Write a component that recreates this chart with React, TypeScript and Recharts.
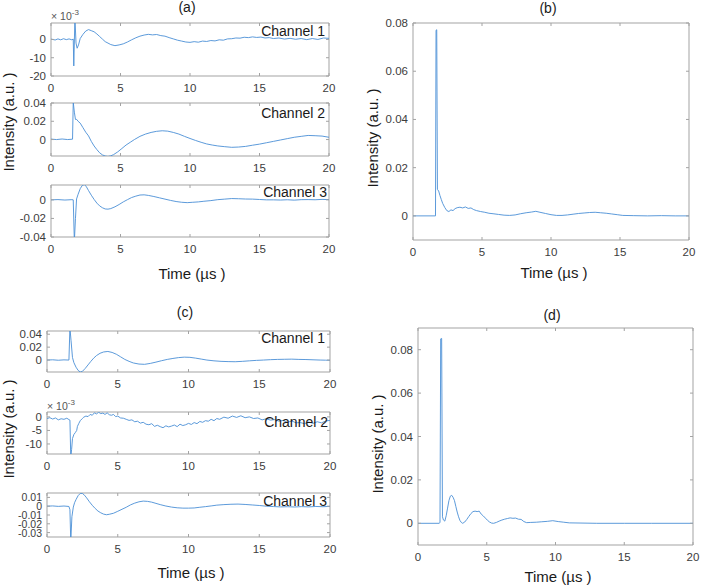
import React from "react";
import { LineChart, Line, XAxis, YAxis, ReferenceArea } from "recharts";

const FONT = "'Liberation Sans', Arial, Helvetica, sans-serif";
const LINE_COLOR = "#4a8fd6";
const BOX_COLOR = "#a3a3a3";
const TICK_COLOR = "#3c3c3c";

const timeTicks = [0, 5, 10, 15, 20];

// (a) Channel 1, values in units of 1e-3
const aCh1Time = [0, 0.3, 0.5, 0.7, 0.9, 1.1, 1.3, 1.5, 1.6, 1.64, 1.72, 1.8, 1.88, 1.98, 2.1, 2.3, 2.5, 2.7, 2.9, 3.1, 3.3, 3.5, 3.7, 3.9, 4.1, 4.3, 4.6, 4.9, 5.2, 5.5, 5.8, 6.1, 6.4, 6.7, 7.0, 7.3, 7.6, 7.9, 8.2, 8.5, 8.8, 9.1, 9.4, 9.7, 10.0, 10.3, 10.6, 10.9, 11.2, 11.5, 11.8, 12.1, 12.4, 12.7, 13.0, 13.3, 13.6, 13.9, 14.2, 14.5, 14.8, 15.1, 15.4, 15.7, 16.0, 16.4, 16.8, 17.2, 17.6, 18.0, 18.4, 18.8, 19.2, 19.6, 20.0];
const aCh1Val = [0.2, -0.3, 0.3, -0.2, 0.4, -0.1, 0.3, -0.2, 0.2, -14.5, 12, -2, -4.8, -3, 0.5, 2.8, 4.6, 5.4, 4.8, 4.2, 3.0, 1.6, 0.2, -1.2, -2.0, -2.8, -3.4, -3.0, -2.4, -1.4, -0.2, 0.9, 1.8, 2.4, 2.8, 2.5, 2.7, 2.1, 1.8, 1.0, 0.3, -0.4, -0.9, -1.4, -1.6, -1.2, -1.5, -0.9, -1.1, -0.6, -0.8, -0.2, -0.4, 0.3, 0.4, 0.8, 0.7, 1.2, 1.0, 1.4, 1.1, 1.3, 0.8, 1.0, 0.5, 0.8, 0.2, 0.6, 0.1, 0.5, -0.1, 0.5, 0.0, 0.8, 0.6];

// (a) Channel 2
const aCh2Time = [0, 0.4, 0.8, 1.2, 1.55, 1.6, 1.68, 1.76, 1.85, 1.95, 2.1, 2.3, 2.5, 2.7, 2.9, 3.1, 3.3, 3.5, 3.7, 3.9, 4.1, 4.3, 4.5, 4.8, 5.1, 5.4, 5.7, 6.0, 6.4, 6.8, 7.2, 7.6, 8.0, 8.4, 8.8, 9.2, 9.6, 10.0, 10.4, 10.8, 11.2, 11.6, 12.0, 12.5, 13.0, 13.5, 14.0, 14.5, 15.0, 15.5, 16.0, 16.5, 17.0, 17.5, 18.0, 18.5, 19.0, 19.5, 20.0];
const aCh2Val = [0.0005, 0, 0.0006, 0, 0.0004, 0.041, 0.03, 0.022, 0.022, 0.02, 0.018, 0.013, 0.008, 0.004, -0.002, -0.007, -0.011, -0.0145, -0.0168, -0.018, -0.0185, -0.0178, -0.0165, -0.0135, -0.0098, -0.006, -0.003, 0, 0.0035, 0.006, 0.0078, 0.009, 0.0096, 0.0092, 0.0078, 0.006, 0.0035, 0.0012, -0.001, -0.003, -0.0048, -0.006, -0.007, -0.0078, -0.0085, -0.0082, -0.0075, -0.0062, -0.005, -0.0035, -0.002, -0.0005, 0.001, 0.0025, 0.0035, 0.0045, 0.0042, 0.0038, 0.0025];

// (a) Channel 3
const aCh3Time = [0, 0.5, 1.0, 1.5, 1.6, 1.68, 1.76, 1.84, 1.95, 2.1, 2.25, 2.4, 2.55, 2.7, 2.9, 3.1, 3.3, 3.5, 3.7, 3.9, 4.1, 4.3, 4.6, 4.9, 5.2, 5.5, 5.8, 6.1, 6.4, 6.7, 7.0, 7.4, 7.8, 8.2, 8.6, 9.0, 9.4, 9.8, 10.2, 10.6, 11.0, 11.5, 12.0, 12.5, 13.0, 13.5, 14.0, 14.5, 15.0, 15.5, 16.0, 16.5, 17.0, 17.5, 18.0, 18.5, 19.0, 19.5, 20.0];
const aCh3Val = [0, 0.0003, -0.0002, 0.0002, 0, -0.045, -0.02, 0.001, 0.006, 0.012, 0.0155, 0.0165, 0.014, 0.01, 0.005, 0.0005, -0.0035, -0.0065, -0.0085, -0.0098, -0.01, -0.0094, -0.0075, -0.005, -0.0022, 0.0002, 0.0025, 0.004, 0.0052, 0.0054, 0.0048, 0.0036, 0.0022, 0.0008, -0.0006, -0.0018, -0.0026, -0.003, -0.0026, -0.0022, -0.0015, -0.0008, 0.0002, 0.0008, 0.0014, 0.0012, 0.0009, 0.0008, 0.0004, 0, 0, -0.0002, 0.0001, -0.0003, 0.0002, 0.0003, 0.0001, 0.0005, 0.0003];

// (b) summed intensity
const bTime = [0, 1.63, 1.67, 1.72, 1.77, 1.86, 1.95, 2.05, 2.15, 2.3, 2.45, 2.6, 2.75, 2.9, 3.05, 3.2, 3.4, 3.6, 3.8, 4.0, 4.2, 4.4, 4.6, 4.9, 5.2, 5.5, 5.8, 6.2, 6.6, 7.0, 7.4, 7.8, 8.2, 8.6, 8.9, 9.2, 9.6, 10.0, 10.4, 10.8, 11.2, 11.6, 12.0, 12.4, 12.8, 13.2, 13.6, 14.0, 14.4, 14.8, 15.2, 16.0, 17.0, 18.0, 19.0, 20.0];
const bVal = [0, 0, 0.077, 0.0772, 0.011, 0.0103, 0.0085, 0.0068, 0.0052, 0.0035, 0.0022, 0.0018, 0.0025, 0.0022, 0.003, 0.0034, 0.0036, 0.0033, 0.0037, 0.0031, 0.0033, 0.0026, 0.0022, 0.0018, 0.0015, 0.0011, 0.0009, 0.0006, 0.0003, 0.0002, 0.0004, 0.0009, 0.0013, 0.0016, 0.0019, 0.0015, 0.001, 0.0005, 0.0002, 0.0002, 0.0004, 0.0007, 0.001, 0.0012, 0.0014, 0.0015, 0.0013, 0.0011, 0.0008, 0.0005, 0.0002, 0.0001, 0, 0.0001, 0, 0];

// (c) Channel 1
const cCh1Time = [0, 0.4, 0.8, 1.2, 1.55, 1.62, 1.7, 1.8, 1.9, 2.05, 2.2, 2.35, 2.5, 2.7, 2.9, 3.1, 3.3, 3.5, 3.75, 4.0, 4.3, 4.6, 4.9, 5.2, 5.5, 5.8, 6.1, 6.5, 6.9, 7.3, 7.7, 8.1, 8.5, 8.9, 9.3, 9.7, 10.1, 10.5, 10.9, 11.3, 11.8, 12.3, 12.8, 13.3, 13.8, 14.3, 14.8, 15.3, 15.8, 16.3, 16.8, 17.3, 17.8, 18.3, 18.8, 19.3, 19.7, 20.0];
const cCh1Val = [0, 0.0004, -0.0003, 0.0003, 0, 0.05, 0.03, 0.004, -0.004, -0.011, -0.016, -0.0185, -0.0175, -0.013, -0.0075, -0.002, 0.003, 0.007, 0.0105, 0.0125, 0.0133, 0.0118, 0.009, 0.005, 0.001, -0.002, -0.0045, -0.0062, -0.0066, -0.0052, -0.0032, -0.001, 0.001, 0.0025, 0.0038, 0.0045, 0.0042, 0.003, 0.0015, 0, -0.0012, -0.002, -0.0024, -0.0026, -0.002, -0.0012, -0.0005, 0, 0.0006, 0.001, 0.0012, 0.0014, 0.001, 0.0008, 0.0004, 0, -0.0002, -0.0004];

// (c) Channel 2, values in units of 1e-3
const cCh2Time = [0, 0.2, 0.4, 0.6, 0.8, 1.0, 1.2, 1.4, 1.55, 1.62, 1.68, 1.74, 1.8, 1.9, 2.0, 2.1, 2.15, 2.25, 2.35, 2.5, 2.6, 2.75, 2.9, 3.05, 3.2, 3.35, 3.5, 3.65, 3.8, 3.95, 4.1, 4.25, 4.4, 4.55, 4.7, 4.85, 5.0, 5.2, 5.4, 5.6, 5.8, 6.0, 6.2, 6.4, 6.6, 6.8, 7.0, 7.2, 7.4, 7.6, 7.8, 8.0, 8.2, 8.4, 8.6, 8.8, 9.0, 9.2, 9.4, 9.6, 9.8, 10.0, 10.2, 10.4, 10.6, 10.8, 11.0, 11.2, 11.4, 11.6, 11.8, 12.0, 12.2, 12.5, 12.8, 13.1, 13.4, 13.7, 14.0, 14.3, 14.6, 14.9, 15.2, 15.5, 15.8, 16.1, 16.4, 16.7, 17.0, 17.3, 17.6, 17.9, 18.2, 18.5, 18.8, 19.1, 19.4, 19.7, 20.0];
const cCh2Val = [-0.6, -0.3, -0.8, -0.4, -1.1, -0.7, -0.9, -0.5, -1.0, -1.2, -15, -12, -8, -6.5, -5.8, -5.0, -3.5, -2.4, -1.4, -0.6, -0.1, 0.3, 0.1, 0.9, 0.6, 1.5, 1.1, 1.7, 1.2, 1.4, 0.9, 1.5, 0.8, 0.6, 0.9, 0.1, 0.3, -0.4, -0.5, -0.9, -1.3, -1.1, -1.8, -1.6, -2.3, -2.0, -2.7, -2.9, -2.5, -3.5, -3.1, -3.6, -4.0, -3.3, -3.7, -3.4, -3.0, -3.6, -2.7, -3.2, -2.9, -2.4, -2.8, -2.1, -2.5, -1.7, -2.0, -1.4, -1.6, -0.9, -1.4, -0.6, -0.9, -0.1, -0.5, 0.3, -0.2, 0.4, -0.3, 0.0, -0.6, -0.4, -1.1, -0.7, -1.2, -1.0, -1.6, -1.3, -2.0, -1.5, -2.2, -2.1, -2.5, -1.9, -2.4, -1.8, -2.2, -1.5, -1.3];

// (c) Channel 3
const cCh3Time = [0, 0.4, 0.8, 1.2, 1.55, 1.62, 1.68, 1.76, 1.86, 1.95, 2.05, 2.2, 2.35, 2.5, 2.65, 2.8, 3.0, 3.2, 3.4, 3.6, 3.8, 4.0, 4.2, 4.4, 4.7, 5.0, 5.3, 5.6, 5.9, 6.2, 6.5, 6.8, 7.1, 7.4, 7.7, 8.0, 8.4, 8.8, 9.2, 9.6, 10.0, 10.4, 10.8, 11.2, 11.6, 12.0, 12.5, 13.0, 13.5, 14.0, 14.5, 15.0, 15.5, 16.0, 16.5, 17.0, 17.5, 18.0, 18.5, 19.0, 19.5, 20.0];
const cCh3Val = [0, 0.0003, -0.0002, 0.0002, -0.0003, -0.004, -0.04, -0.012, -0.001, 0.004, 0.0075, 0.012, 0.0145, 0.0145, 0.0125, 0.0095, 0.005, 0.001, -0.0025, -0.0055, -0.0075, -0.009, -0.0097, -0.0092, -0.008, -0.0058, -0.0035, -0.0012, 0.0015, 0.0035, 0.005, 0.0058, 0.0055, 0.0046, 0.0032, 0.0018, 0.0002, -0.001, -0.0018, -0.0022, -0.0022, -0.002, -0.0012, -0.0005, 0.0003, 0.0012, 0.0018, 0.0022, 0.0024, 0.002, 0.0014, 0.0008, 0, -0.0004, -0.0008, -0.0006, -0.0009, -0.0005, -0.0008, -0.0003, -0.0006, -0.0002];

// (d) summed intensity
const dTime = [0, 1.55, 1.6, 1.65, 1.72, 1.78, 1.85, 1.95, 2.05, 2.15, 2.25, 2.35, 2.45, 2.55, 2.65, 2.75, 2.85, 2.95, 3.05, 3.15, 3.25, 3.4, 3.55, 3.7, 3.85, 4.0, 4.15, 4.3, 4.45, 4.6, 4.75, 4.9, 5.05, 5.2, 5.35, 5.5, 5.7, 5.9, 6.1, 6.3, 6.5, 6.7, 6.9, 7.1, 7.3, 7.5, 7.7, 7.9, 8.2, 8.6, 9.0, 9.4, 9.8, 10.2, 10.6, 11.0, 12.0, 13.0, 15.0, 17.0, 20.0];
const dVal = [0, 0, 0.0005, 0.085, 0.0852, 0.003, 0.0015, 0.001, 0.0035, 0.007, 0.0105, 0.0125, 0.0129, 0.012, 0.0105, 0.0078, 0.0052, 0.003, 0.0013, 0.0004, 0, 0.0006, 0.0018, 0.0032, 0.0045, 0.0054, 0.0056, 0.0054, 0.0056, 0.0042, 0.0034, 0.0024, 0.0014, 0.0006, 0.0001, 0, 0.0004, 0.001, 0.0015, 0.0019, 0.0022, 0.0025, 0.0023, 0.0024, 0.0019, 0.0018, 0.0008, 0.0003, 0.0004, 0.0005, 0.0007, 0.0009, 0.0012, 0.0008, 0.0005, 0.0002, 0.0001, 0, 0, 0, 0];

const zip = (t: number[], v: number[]) => t.map((x, i) => ({ t: x, v: v[i] }));

const ML = 48;
const MR = 10;
const MT = 10;
const MB = 22;

interface PanelProps {
  left: number;
  top: number;
  width: number;
  height: number;
  data: { t: number; v: number }[];
  yDomain: [number, number];
  yTicks: number[];
  yFont?: number;
}

function Panel({ left, top, width, height, data, yDomain, yTicks, yFont = 11.5 }: PanelProps) {
  const bottom = MT + height;
  const right = ML + width;

  // eslint-disable-next-line @typescript-eslint/no-explicit-any
  const XTick = (p: any) => (
    <g>
      <line x1={p.x} x2={p.x} y1={bottom} y2={bottom - 3} stroke={BOX_COLOR} />
      <line x1={p.x} x2={p.x} y1={MT} y2={MT + 3} stroke={BOX_COLOR} />
      <text
        x={p.x}
        y={bottom + 12}
        textAnchor="middle"
        dominantBaseline="central"
        fontSize={11.5}
        fill={TICK_COLOR}
        fontFamily={FONT}
      >
        {p.payload.value}
      </text>
    </g>
  );

  // eslint-disable-next-line @typescript-eslint/no-explicit-any
  const YTick = (p: any) => (
    <g>
      <line x1={ML} x2={ML + 3} y1={p.y} y2={p.y} stroke={BOX_COLOR} />
      <line x1={right} x2={right - 3} y1={p.y} y2={p.y} stroke={BOX_COLOR} />
      <text
        x={ML - 5}
        y={p.y}
        textAnchor="end"
        dominantBaseline="central"
        fontSize={yFont}
        fill={TICK_COLOR}
        fontFamily={FONT}
      >
        {p.payload.value}
      </text>
    </g>
  );

  return (
    <div style={{ position: "absolute", left: left - ML, top: top - MT }}>
      <LineChart
        width={width + ML + MR}
        height={height + MT + MB}
        data={data}
        margin={{ top: MT, right: MR, bottom: 0, left: 0 }}
      >
        <XAxis
          dataKey="t"
          type="number"
          domain={[0, 20]}
          ticks={timeTicks}
          interval={0}
          height={MB}
          axisLine={false}
          tickLine={false}
          tick={XTick}
          allowDataOverflow
        />
        <YAxis
          type="number"
          domain={yDomain}
          ticks={yTicks}
          interval={0}
          width={ML}
          axisLine={false}
          tickLine={false}
          tick={YTick}
          allowDataOverflow
        />
        <ReferenceArea
          x1={0}
          x2={20}
          y1={yDomain[0]}
          y2={yDomain[1]}
          fill="none"
          fillOpacity={0}
          stroke={BOX_COLOR}
          strokeWidth={1}
        />
        <Line
          dataKey="v"
          type="linear"
          stroke={LINE_COLOR}
          strokeWidth={0.9}
          dot={false}
          isAnimationActive={false}
        />
      </LineChart>
    </div>
  );
}

const txt = { fontFamily: FONT, fill: "#1a1a1a" };

export default function App() {
  return (
    <div
      style={{
        position: "absolute",
        left: 0,
        top: 0,
        width: 701,
        height: 585,
        background: "#fff",
        fontFamily: FONT,
      }}
    >
      <Panel left={51} top={23} width={278} height={53} data={zip(aCh1Time, aCh1Val)} yDomain={[-20, 9]} yTicks={[-20, -10, 0]} />
      <Panel left={51} top={103} width={278} height={53} data={zip(aCh2Time, aCh2Val)} yDomain={[-0.018, 0.04]} yTicks={[0, 0.02, 0.04]} />
      <Panel left={51} top={185} width={278} height={52} data={zip(aCh3Time, aCh3Val)} yDomain={[-0.04, 0.016]} yTicks={[-0.04, -0.02, 0]} />
      <Panel left={413} top={23} width={276} height={217} data={zip(bTime, bVal)} yDomain={[-0.01, 0.08]} yTicks={[0, 0.02, 0.04, 0.06, 0.08]} />
      <Panel left={47} top={331} width={283} height={41} data={zip(cCh1Time, cCh1Val)} yDomain={[-0.0185, 0.045]} yTicks={[0, 0.02, 0.04]} />
      <Panel left={47} top={412} width={283} height={42} data={zip(cCh2Time, cCh2Val)} yDomain={[-13.7, 1.8]} yTicks={[-10, -5, 0]} />
      <Panel left={47} top={493} width={283} height={44} data={zip(cCh3Time, cCh3Val)} yDomain={[-0.035, 0.015]} yTicks={[-0.03, -0.02, -0.01, 0, 0.01]} yFont={10.5} />
      <Panel left={418} top={328} width={275} height={217} data={zip(dTime, dVal)} yDomain={[-0.01, 0.09]} yTicks={[0, 0.02, 0.04, 0.06, 0.08]} />

      <svg
        width={701}
        height={585}
        style={{ position: "absolute", left: 0, top: 0, pointerEvents: "none" }}
      >
        <text x={187} y={7} fontSize={14} textAnchor="middle" dominantBaseline="central" {...txt}>(a)</text>
        <text x={548} y={8} fontSize={14} textAnchor="middle" dominantBaseline="central" {...txt}>(b)</text>
        <text x={185} y={312} fontSize={14} textAnchor="middle" dominantBaseline="central" {...txt}>(c)</text>
        <text x={552} y={315} fontSize={14} textAnchor="middle" dominantBaseline="central" {...txt}>(d)</text>

        <text x={325} y={36} fontSize={14} textAnchor="end" {...txt}>Channel 1</text>
        <text x={325} y={118} fontSize={14} textAnchor="end" {...txt}>Channel 2</text>
        <text x={327} y={197} fontSize={14} textAnchor="end" {...txt}>Channel 3</text>
        <text x={325} y={343} fontSize={14} textAnchor="end" {...txt}>Channel 1</text>
        <text x={328} y={427} fontSize={14} textAnchor="end" {...txt}>Channel 2</text>
        <text x={327} y={506} fontSize={14} textAnchor="end" {...txt}>Channel 3</text>

        <text x={51} y={20} fontSize={10.5} fill="#555" fontFamily={FONT}>
          × 10<tspan dy={-5} fontSize={8}>-3</tspan>
        </text>
        <text x={47} y={410} fontSize={10.5} fill="#555" fontFamily={FONT}>
          × 10<tspan dy={-5} fontSize={8}>-3</tspan>
        </text>

        <text x={192} y={273} fontSize={15} textAnchor="middle" dominantBaseline="central" {...txt}>Time (µs )</text>
        <text x={554} y={272} fontSize={15} textAnchor="middle" dominantBaseline="central" {...txt}>Time (µs )</text>
        <text x={191} y={572} fontSize={15} textAnchor="middle" dominantBaseline="central" {...txt}>Time (µs )</text>
        <text x={558} y={576} fontSize={15} textAnchor="middle" dominantBaseline="central" {...txt}>Time (µs )</text>

        <text x={8} y={122} fontSize={15} textAnchor="middle" dominantBaseline="central" transform="rotate(-90 8 122)" {...txt}>Intensity (a.u. )</text>
        <text x={8} y={429} fontSize={15} textAnchor="middle" dominantBaseline="central" transform="rotate(-90 8 429)" {...txt}>Intensity (a.u. )</text>
        <text x={372} y={138} fontSize={15} textAnchor="middle" dominantBaseline="central" transform="rotate(-90 372 138)" {...txt}>Intensity (a.u. )</text>
        <text x={377} y={444} fontSize={15} textAnchor="middle" dominantBaseline="central" transform="rotate(-90 377 444)" {...txt}>Intensity (a.u. )</text>
      </svg>
    </div>
  );
}
